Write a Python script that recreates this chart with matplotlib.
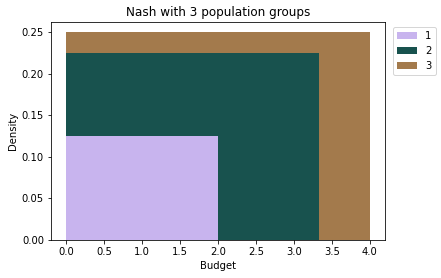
import matplotlib
matplotlib.use("Agg")
import matplotlib.pyplot as plt

groups = ["1", "2", "3"]
budget_max = [2.0, 3.33, 4.0]
density = [0.125, 0.225, 0.25]
colors = ["#c8b4ee", "#18524e", "#a37a4c"]

fig = plt.figure(figsize=(441 / 72, 278 / 72), dpi=72)
ax = fig.add_axes([51 / 441, 1 - 240 / 278, 334 / 441, 218 / 278])

handles = []
# draw widest first so smaller groups sit on top
for i in reversed(range(len(groups))):
    h = ax.bar(0, density[i], width=budget_max[i], align="edge",
               color=colors[i], label=groups[i], linewidth=0)
    handles.append(h)
handles = handles[::-1]

ax.set_title("Nash with 3 population groups")
ax.set_xlabel("Budget")
ax.set_ylabel("Density")
ax.set_xticks([0, 0.5, 1.0, 1.5, 2.0, 2.5, 3.0, 3.5, 4.0])
ax.legend(handles, groups, loc="upper left", bbox_to_anchor=(1.01, 1.0))

fig.savefig("out.png", dpi=72)
